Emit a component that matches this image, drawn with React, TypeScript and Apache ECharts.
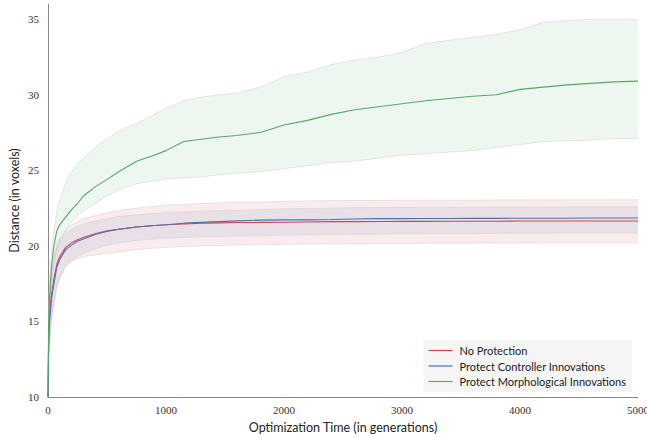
import React, { useEffect, useRef } from "react";
import * as echarts from "echarts";

const gens = [0, 5, 10, 20, 30, 50, 75, 100, 150, 200, 250, 300, 400, 500, 600, 750, 900, 1000, 1150, 1300, 1450, 1600, 1800, 2000, 2200, 2400, 2600, 2800, 3000, 3200, 3400, 3600, 3800, 4000, 4200, 4400, 4600, 4800, 5000];

const noProtMean = [10, 13.5, 15.0, 16.0, 16.8, 17.8, 18.8, 19.3, 19.9, 20.2, 20.4, 20.55, 20.8, 21.0, 21.1, 21.25, 21.35, 21.4, 21.45, 21.5, 21.52, 21.54, 21.55, 21.56, 21.58, 21.6, 21.6, 21.61, 21.62, 21.62, 21.63, 21.63, 21.63, 21.64, 21.64, 21.64, 21.64, 21.64, 21.64];
const noProtHigh = [10, 15.0, 16.5, 17.6, 18.4, 19.3, 20.1, 20.5, 21.0, 21.35, 21.6, 21.8, 22.0, 22.2, 22.35, 22.5, 22.6, 22.7, 22.75, 22.8, 22.85, 22.9, 22.9, 22.95, 22.97, 23.0, 23.0, 23.0, 23.02, 23.02, 23.03, 23.03, 23.04, 23.04, 23.05, 23.05, 23.05, 23.05, 23.05];
const noProtLow = [10, 12.0, 13.3, 14.5, 15.3, 16.3, 17.3, 17.9, 18.6, 18.95, 19.15, 19.3, 19.4, 19.5, 19.6, 19.75, 19.85, 19.9, 19.95, 20.0, 20.02, 20.05, 20.07, 20.1, 20.12, 20.13, 20.14, 20.15, 20.16, 20.17, 20.18, 20.18, 20.19, 20.19, 20.2, 20.2, 20.2, 20.2, 20.2];

const ctrlMean = [10, 13.2, 14.6, 15.6, 16.5, 17.5, 18.6, 19.1, 19.75, 20.05, 20.3, 20.45, 20.75, 20.95, 21.1, 21.25, 21.35, 21.4, 21.5, 21.55, 21.6, 21.65, 21.7, 21.72, 21.72, 21.74, 21.78, 21.8, 21.8, 21.81, 21.81, 21.82, 21.82, 21.83, 21.83, 21.83, 21.84, 21.84, 21.84];
const ctrlHigh = [10, 14.5, 16.0, 17.2, 18.1, 19.0, 19.9, 20.3, 20.8, 21.1, 21.3, 21.45, 21.65, 21.8, 21.95, 22.05, 22.15, 22.2, 22.25, 22.3, 22.33, 22.35, 22.4, 22.45, 22.47, 22.5, 22.52, 22.53, 22.54, 22.55, 22.55, 22.56, 22.56, 22.57, 22.57, 22.58, 22.58, 22.58, 22.58];
const ctrlLow = [10, 11.8, 13.0, 14.0, 14.9, 16.0, 17.3, 17.9, 18.7, 19.05, 19.3, 19.5, 19.8, 20.05, 20.2, 20.35, 20.45, 20.5, 20.55, 20.6, 20.62, 20.65, 20.68, 20.7, 20.72, 20.75, 20.77, 20.78, 20.8, 20.8, 20.81, 20.82, 20.83, 20.84, 20.84, 20.85, 20.85, 20.85, 20.85];

const morphMean = [10, 14.5, 16.0, 17.5, 18.7, 20.0, 21.0, 21.4, 21.9, 22.4, 22.8, 23.3, 23.9, 24.4, 24.9, 25.6, 26.0, 26.3, 26.9, 27.05, 27.2, 27.3, 27.5, 28.0, 28.3, 28.7, 29.0, 29.2, 29.4, 29.6, 29.75, 29.9, 30.0, 30.35, 30.5, 30.65, 30.75, 30.85, 30.9];
const morphHigh = [10, 15.0, 17.0, 18.5, 19.8, 21.0, 22.3, 23.0, 24.2, 24.9, 25.5, 25.8, 26.5, 27.1, 27.6, 28.1, 28.7, 29.1, 29.6, 29.85, 30.0, 30.1, 30.5, 31.2, 31.5, 32.0, 32.3, 32.5, 32.8, 33.4, 33.6, 33.8, 34.0, 34.3, 34.8, 34.9, 35.0, 35.0, 35.0];
const morphLow = [10, 13.5, 14.8, 16.5, 17.6, 19.0, 19.8, 20.3, 21.0, 21.6, 22.0, 22.3, 22.8, 23.3, 23.7, 24.1, 24.3, 24.4, 24.5, 24.55, 24.7, 24.8, 24.9, 25.1, 25.3, 25.5, 25.6, 25.8, 26.0, 26.1, 26.2, 26.3, 26.5, 26.7, 26.9, 26.95, 27.0, 27.1, 27.1];

const seriesNames = ["No Protection", "Protect Controller Innovations", "Protect Morphological Innovations"];
const xTicks = { min: 0, max: 5000, interval: 1000 };
const yTicks = { min: 10, max: 36, interval: 5 };

const RED = "#d2454d";
const BLUE = "#4c72b0";
const GREEN = "#55a868";

function withAlpha(hex: string, a: number) {
  const r = parseInt(hex.slice(1, 3), 16);
  const g = parseInt(hex.slice(3, 5), 16);
  const b = parseInt(hex.slice(5, 7), 16);
  return `rgba(${r},${g},${b},${a})`;
}

function bandSeries(id: string, low: number[], high: number[], color: string) {
  return {
    type: "custom",
    name: id + "-band",
    silent: true,
    z: 1,
    clip: true,
    data: gens.map((g, i) => [g, low[i], high[i]]),
    encode: { x: 0, y: [1, 2] },
    renderItem: (params: any, api: any) => {
      if (params.dataIndex !== 0) return null;
      const upper = gens.map((g, i) => api.coord([g, high[i]]));
      const lower = gens.map((g, i) => api.coord([g, low[i]]));
      const edge = { stroke: "rgba(200,200,200,0.5)", lineWidth: 0.8, fill: null };
      return {
        type: "group",
        children: [
          {
            type: "polygon",
            shape: { points: upper.concat(lower.slice().reverse()) },
            style: { fill: withAlpha(color, 0.1), stroke: null },
          },
          { type: "polyline", shape: { points: upper }, style: edge },
          { type: "polyline", shape: { points: lower }, style: edge },
        ],
      };
    },
  };
}

function meanSeries(name: string, vals: number[], color: string) {
  return {
    type: "line",
    name,
    data: gens.map((g, i) => [g, vals[i]]),
    symbol: "none",
    itemStyle: { color },
    lineStyle: { color, width: 1.1 },
    z: 3,
  };
}

export default function App() {
  const ref = useRef<HTMLDivElement>(null);
  useEffect(() => {
    if (!ref.current) return;
    const chart = echarts.init(ref.current, undefined, { renderer: "svg" });
    chart.setOption({
      animation: false,
      backgroundColor: "#ffffff",
      grid: { left: 48, right: 9, top: 4, bottom: 40, outerBoundsMode: "none", containLabel: false },
      xAxis: {
        type: "value",
        min: xTicks.min,
        max: xTicks.max,
        interval: xTicks.interval,
        name: "Optimization Time (in generations)",
        nameLocation: "middle",
        nameGap: 24,
        nameMoveOverlap: false,
        nameTextStyle: { fontFamily: "Lato", fontSize: 12.5, color: "#222" },
        axisLine: { lineStyle: { color: "#888", width: 1 } },
        axisTick: { show: false },
        splitLine: { show: false },
        axisLabel: {
          fontFamily: "Liberation Serif",
          fontSize: 11,
          color: "#333",
          margin: 7,
          formatter: (v: number) => String(v),
        },
      },
      yAxis: {
        type: "value",
        min: yTicks.min,
        max: yTicks.max,
        interval: yTicks.interval,
        name: "Distance (in voxels)",
        nameLocation: "middle",
        nameGap: 27,
        nameMoveOverlap: false,
        nameTextStyle: { fontFamily: "Lato", fontSize: 12.5, color: "#222" },
        axisLine: { show: true, lineStyle: { color: "#888", width: 1 } },
        axisTick: { show: false },
        splitLine: { show: false },
        axisLabel: {
          fontFamily: "Liberation Serif",
          fontSize: 11,
          color: "#333",
          margin: 9,
          formatter: (v: number) => (v % 5 === 0 ? String(v) : ""),
        },
      },
      legend: {
        data: seriesNames,
        orient: "vertical",
        right: 15,
        bottom: 45,
        backgroundColor: "#f5f5f5",
        borderWidth: 0,
        padding: [5, 6, 5, 5],
        itemGap: 4.5,
        itemWidth: 24,
        itemHeight: 1.2,
        icon: "rect",
        textStyle: { fontFamily: "Lato", fontSize: 11, color: "#222", padding: [0, 0, 0, 2] },
      },
      series: [
        bandSeries("morph", morphLow, morphHigh, GREEN),
        bandSeries("noprot", noProtLow, noProtHigh, RED),
        bandSeries("ctrl", ctrlLow, ctrlHigh, BLUE),
        meanSeries(seriesNames[0], noProtMean, RED),
        meanSeries(seriesNames[1], ctrlMean, BLUE),
        meanSeries(seriesNames[2], morphMean, GREEN),
      ],
    });
    return () => chart.dispose();
  }, []);
  return <div ref={ref} style={{ width: 647, height: 437, position: "absolute", left: 0, top: 0 }} />;
}
